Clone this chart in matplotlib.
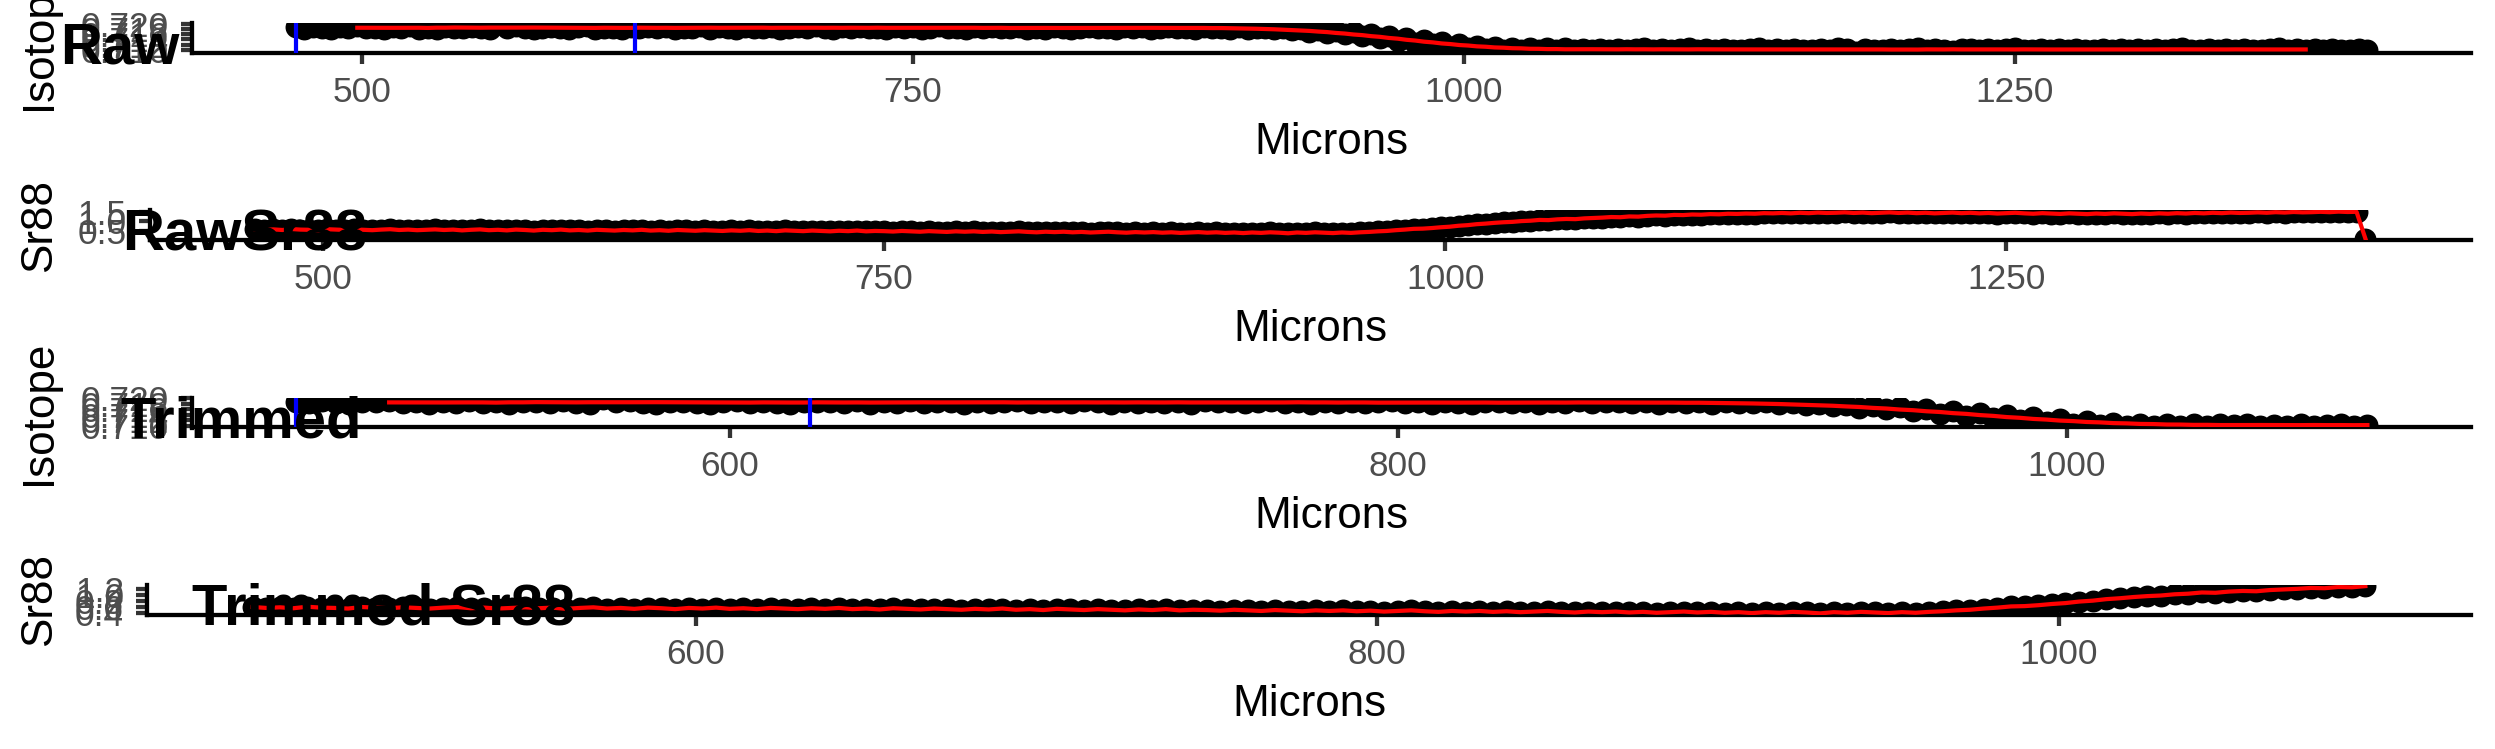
import numpy as np
import pandas as pd
import matplotlib
matplotlib.use("Agg")
import matplotlib.pyplot as plt
from matplotlib.ticker import FormatStrFormatter
from matplotlib.transforms import blended_transform_factory

# sampling grid of the laser track (microns)
x_start, x_stop, x_step = 470, 1410, 4
trim_end = 1090
standard_lines = [470, 624]

isotope = [
    0.7186, 0.7181, 0.7188, 0.7183, 0.7179, 0.7187, 0.7184, 0.7190, 0.7182, 0.7185,
    0.7180, 0.7186, 0.7183, 0.7189, 0.7181, 0.7184, 0.7178, 0.7187, 0.7185, 0.7182,
    0.7188, 0.7183, 0.7180, 0.7197, 0.7184, 0.7191, 0.7182, 0.7179, 0.7185, 0.7187,
    0.7183, 0.7180, 0.7186, 0.7189, 0.7181, 0.7185, 0.7183, 0.7178, 0.7187, 0.7184,
    0.7186, 0.7182, 0.7188, 0.7180, 0.7185, 0.7183, 0.7190, 0.7181, 0.7186, 0.7184,
    0.7179, 0.7187, 0.7183, 0.7185, 0.7188, 0.7181, 0.7184, 0.7186, 0.7182, 0.7189,
    0.7184, 0.7180, 0.7186, 0.7183, 0.7187, 0.7182, 0.7185, 0.7179, 0.7188, 0.7184,
    0.7186, 0.7181, 0.7184, 0.7189, 0.7182, 0.7185, 0.7180, 0.7187, 0.7183, 0.7186,
    0.7182, 0.7185, 0.7188, 0.7181, 0.7184, 0.7179, 0.7186, 0.7183, 0.7180, 0.7184,
    0.7187, 0.7182, 0.7185, 0.7180, 0.7186, 0.7183, 0.7188, 0.7181, 0.7184, 0.7186,
    0.7183, 0.7185, 0.7180, 0.7187, 0.7182, 0.7184, 0.7179, 0.7186, 0.7181, 0.7183,
    0.7184, 0.7180, 0.7182, 0.7175, 0.7179, 0.7170, 0.7175, 0.7165, 0.7171, 0.7160,
    0.7167, 0.7152, 0.7160, 0.7144, 0.7153, 0.7136, 0.7146, 0.7128, 0.7139, 0.7121,
    0.7131, 0.7113, 0.7124, 0.7107, 0.7117, 0.7103, 0.7112, 0.7100, 0.7108, 0.7099,
    0.7108, 0.7099, 0.7106, 0.7100, 0.7106, 0.7102, 0.7105, 0.7100, 0.7104, 0.7101,
    0.7105, 0.7100, 0.7103, 0.7106, 0.7101, 0.7104, 0.7099, 0.7103, 0.7106, 0.7101,
    0.7104, 0.7100, 0.7105, 0.7102, 0.7099, 0.7103, 0.7106, 0.7100, 0.7104, 0.7101,
    0.7105, 0.7102, 0.7099, 0.7104, 0.7101, 0.7106, 0.7103, 0.7094, 0.7104, 0.7102,
    0.7099, 0.7105, 0.7101, 0.7103, 0.7106, 0.7100, 0.7104, 0.7102, 0.7098, 0.7103,
    0.7105, 0.7101, 0.7104, 0.7100, 0.7103, 0.7106, 0.7099, 0.7102, 0.7105, 0.7101,
    0.7103, 0.7100, 0.7104, 0.7102, 0.7099, 0.7103, 0.7101, 0.7104, 0.7102, 0.7105,
    0.7101, 0.7104, 0.7100, 0.7103, 0.7106, 0.7099, 0.7102, 0.7105, 0.7101, 0.7103,
    0.7100, 0.7104, 0.7102, 0.7099, 0.7103, 0.7106, 0.7101, 0.7104, 0.7100, 0.7103,
    0.7101, 0.7104, 0.7102, 0.7100, 0.7103, 0.7102,
]

sr88 = [
    0.60, 0.57, 0.59, 0.56, 0.61, 0.58, 0.57, 0.55, 0.60, 0.58,
    0.56, 0.59, 0.57, 0.55, 0.58, 0.60, 0.56, 0.58, 0.55, 0.57,
    0.59, 0.56, 0.58, 0.54, 0.57, 0.59, 0.55, 0.57, 0.54, 0.58,
    0.56, 0.53, 0.57, 0.55, 0.58, 0.54, 0.56, 0.53, 0.57, 0.55,
    0.53, 0.56, 0.54, 0.57, 0.53, 0.55, 0.52, 0.56, 0.54, 0.52,
    0.55, 0.53, 0.51, 0.54, 0.52, 0.55, 0.51, 0.53, 0.50, 0.54,
    0.52, 0.50, 0.53, 0.51, 0.49, 0.52, 0.50, 0.53, 0.49, 0.51,
    0.50, 0.48, 0.51, 0.49, 0.47, 0.50, 0.48, 0.46, 0.49, 0.47,
    0.49, 0.46, 0.48, 0.45, 0.47, 0.49, 0.46, 0.44, 0.47, 0.45,
    0.47, 0.44, 0.46, 0.43, 0.45, 0.47, 0.44, 0.42, 0.45, 0.43,
    0.45, 0.42, 0.44, 0.41, 0.43, 0.45, 0.42, 0.44, 0.41, 0.43,
    0.40, 0.43, 0.41, 0.44, 0.42, 0.39, 0.43, 0.41, 0.44, 0.42,
    0.40, 0.43, 0.41, 0.44, 0.46, 0.49, 0.51, 0.55, 0.58, 0.62,
    0.63, 0.66, 0.70, 0.73, 0.78, 0.81, 0.86, 0.89, 0.93, 0.96,
    0.98, 1.02, 1.04, 1.08, 1.07, 1.11, 1.13, 1.12, 1.16, 1.18,
    1.20, 1.23, 1.22, 1.26, 1.25, 1.29, 1.31, 1.30, 1.34, 1.33,
    1.36, 1.35, 1.38, 1.37, 1.40, 1.39, 1.41, 1.40, 1.43, 1.42,
    1.44, 1.42, 1.45, 1.43, 1.46, 1.44, 1.45, 1.47, 1.44, 1.46,
    1.43, 1.45, 1.47, 1.44, 1.46, 1.43, 1.45, 1.42, 1.44, 1.46,
    1.43, 1.45, 1.42, 1.44, 1.41, 1.43, 1.45, 1.42, 1.40, 1.43,
    1.41, 1.39, 1.42, 1.40, 1.38, 1.41, 1.39, 1.42, 1.40, 1.38,
    1.41, 1.39, 1.42, 1.40, 1.43, 1.41, 1.44, 1.42, 1.45, 1.43,
    1.46, 1.44, 1.45, 1.47, 1.45, 1.48, 1.46, 1.49, 1.47, 1.48,
    1.50, 1.48, 1.51, 1.49, 1.50, 0.10,
]

titles = ["Raw", "RawSr88", "Trimmed", "Trimmed Sr88"]
y_names = ["Isotope", "Sr88", "Isotope", "Sr88"]
raw_xticks = [500, 750, 1000, 1250]
trim_xticks = [600, 800, 1000]
iso_yticks = [0.710, 0.712, 0.714, 0.716, 0.718, 0.720]
raw_sr_yticks = [0.5, 1.0, 1.5]
trim_sr_yticks = [0.4, 0.6, 0.8, 1.0, 1.2]

W, H, DPI = 2495, 749, 288
plt.rcParams["font.family"] = ["Liberation Sans", "DejaVu Sans"]

df = pd.DataFrame({"Microns": np.arange(x_start, x_stop + 1, x_step),
                   "Isotope": isotope, "Sr88": sr88})
df["Smooth"] = df["Isotope"].rolling(15, center=True).mean()
trim = df[df["Microns"] <= trim_end]

fig = plt.figure(figsize=(W / DPI, H / DPI), dpi=DPI)
lefts = [192, 150, 192, 147]


def make_panel(row, data, ycol, red, xticks, yticks, yfmt, vlines=None):
    sub_top = row * H / 4
    top, bottom = sub_top + 23, sub_top + 53
    left = lefts[row]
    ax = fig.add_axes([left / W, 1 - bottom / H, (2471 - left) / W, (bottom - top) / H])
    ax.scatter(data["Microns"], data[ycol], s=30, color="black", linewidths=0, zorder=2)
    ax.plot(data["Microns"], red, color="red", lw=1.05, zorder=3)
    if vlines:
        for v in vlines:
            ax.axvline(v, color="blue", lw=1.05, zorder=4)
    ax.set_xticks(xticks)
    ax.set_yticks(yticks)
    ax.yaxis.set_major_formatter(FormatStrFormatter(yfmt))
    for side in ["top", "right"]:
        ax.spines[side].set_visible(False)
    for side in ["left", "bottom"]:
        ax.spines[side].set_linewidth(1.07)
        ax.spines[side].set_color("black")
    ax.tick_params(length=2.75, width=1.07, color="#333333", labelcolor="#4D4D4D",
                   labelsize=8.8, pad=3.0)
    ax.set_xlabel("Microns", fontsize=11, labelpad=3.2)
    ax.set_ylabel(y_names[row], fontsize=11, va="center")
    ax.yaxis.set_label_coords(40 / W, 0.5,
                              transform=blended_transform_factory(fig.transFigure, ax.transAxes))
    # cowplot style panel label: hjust = -0.5, vjust = 1.5
    t = fig.text(0, 1 - (sub_top + 21) / H, titles[row], fontsize=14.5,
                 fontweight="bold", ha="left", va="top", zorder=10)
    return ax, t


panels = [
    make_panel(0, df, "Isotope", df["Smooth"], raw_xticks, iso_yticks, "%.3f", standard_lines),
    make_panel(1, df, "Sr88", df["Sr88"], raw_xticks, raw_sr_yticks, "%.1f"),
    make_panel(2, trim, "Isotope", trim["Smooth"], trim_xticks, iso_yticks, "%.3f", standard_lines),
    make_panel(3, trim, "Sr88", trim["Sr88"], trim_xticks, trim_sr_yticks, "%.1f"),
]

renderer = fig.canvas.get_renderer()
for ax, t in panels:
    w = t.get_window_extent(renderer=renderer).width
    t.set_x(0.5 * w / W)

fig.savefig("out.png", dpi=DPI)
